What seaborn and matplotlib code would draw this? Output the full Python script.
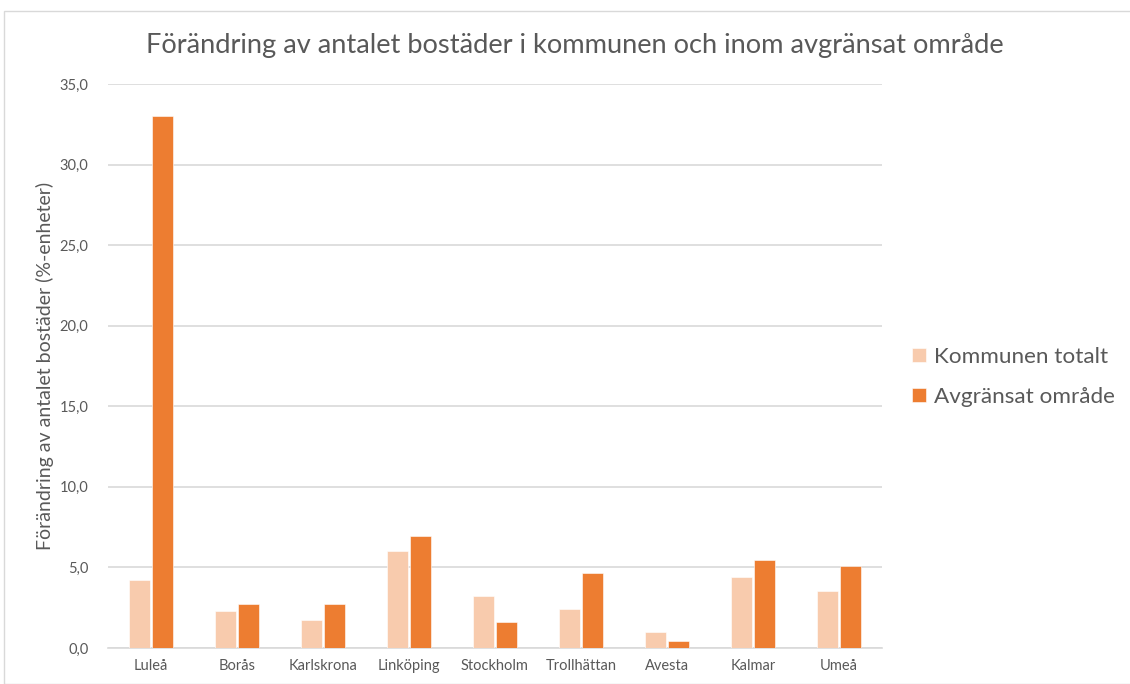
import matplotlib
matplotlib.use("Agg")
import matplotlib.pyplot as plt
import matplotlib.ticker as mticker
from matplotlib.patches import Rectangle
import seaborn as sns
import pandas as pd

categories = ["Luleå", "Borås", "Karlskrona", "Linköping", "Stockholm",
              "Trollhättan", "Avesta", "Kalmar", "Umeå"]
kommunen_totalt = [4.24, 2.27, 1.76, 6.02, 3.2, 2.44, 0.97, 4.38, 3.52]
avgransat_omrade = [33.0, 2.7, 2.7, 6.95, 1.63, 4.65, 0.45, 5.48, 5.11]
series_names = ["Kommunen totalt", "Avgränsat område"]
yticks = [0, 5, 10, 15, 20, 25, 30, 35]

df = pd.DataFrame({
    "Kommun": categories * 2,
    "Serie": [series_names[0]] * len(categories) + [series_names[1]] * len(categories),
    "Värde": kommunen_totalt + avgransat_omrade,
})

sns.set_style("white")
plt.rcParams["font.family"] = ["Lato", "DejaVu Sans"]
grey = "#595959"

fig = plt.figure(figsize=(11.3, 6.84), dpi=100)
ax = fig.add_axes([108 / 1130, 1 - 648 / 684, (882 - 108) / 1130, (648 - 84) / 684])

sns.barplot(data=df, x="Kommun", y="Värde", hue="Serie", order=categories,
            hue_order=series_names, palette=["#F8CBAD", "#ED7D31"],
            width=0.54, gap=0.12, ax=ax, saturation=1, edgecolor="white",
            linewidth=0.4, zorder=3)

ax.set_ylim(0, 35)
ax.set_yticks(yticks)
ax.yaxis.set_major_formatter(mticker.FuncFormatter(lambda v, p: f"{v:.1f}".replace(".", ",")))
ax.grid(axis="y", color="#D9D9D9", linewidth=1.2, zorder=0)
ax.set_axisbelow(True)
for s in ["top", "right", "left"]:
    ax.spines[s].set_visible(False)
ax.spines["bottom"].set_color("#D9D9D9")
ax.spines["bottom"].set_linewidth(1.2)
ax.tick_params(axis="both", length=0, colors=grey, labelsize=10.5)
ax.tick_params(axis="x", pad=8)
ax.tick_params(axis="y", pad=14)
ax.set_xlabel("")
ax.set_ylabel("Förändring av antalet bostäder (%-enheter)", color=grey, fontsize=14, labelpad=4)
ax.set_xlim(-0.5, len(categories) - 0.5)

fig.text(575 / 1130, 1 - 46 / 684, "Förändring av antalet bostäder i kommunen och inom avgränsat område",
         ha="center", va="center", fontsize=19.6, color=grey)

leg = ax.legend(loc="center left", bbox_to_anchor=(892 / 1130, 1 - 377 / 684),
                bbox_transform=fig.transFigure, frameon=False, fontsize=16.2,
                labelcolor=grey, handlelength=0.6, handleheight=0.6, handletextpad=0.35,
                labelspacing=0.9)

fig.patches.append(Rectangle((4 / 1130, 0), 1.2, 1 - 11 / 684, transform=fig.transFigure,
                             fill=False, edgecolor="#D9D9D9", linewidth=1.0))

fig.savefig("out.png", dpi=100)
